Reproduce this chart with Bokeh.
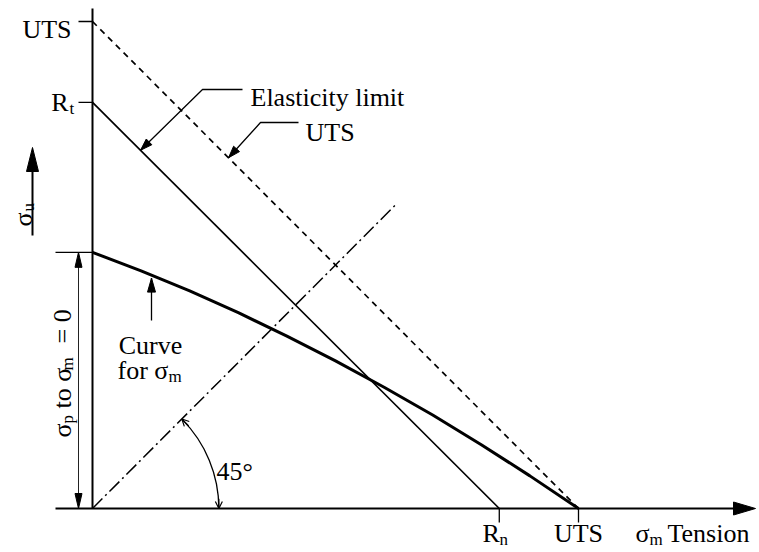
import math
import numpy as np
from bokeh.plotting import figure
from bokeh.models import Range1d, Label, Arrow, OpenHead
from bokeh.embed import file_html
from bokeh.resources import INLINE

# Stresses normalised so that UTS = 1 on both axes
uts = 1.0
r_t = 0.834            # elasticity limit on the sigma_u axis
r_n = 0.837            # elasticity limit on the sigma_m axis
sigma_p = 0.526        # sigma_p for sigma_m = 0
curve_x = [0.0, 0.1, 0.2, 0.3, 0.4, 0.5, 0.6, 0.7, 0.8, 0.9, 1.0]
curve_y = [0.526, 0.488, 0.447, 0.402, 0.354, 0.303, 0.249, 0.192, 0.131, 0.067, 0.0]
diag_len = 0.625       # extent of the 45 degree reference line
angle_deg = 45
arc_r = 0.26

FONT = "'Liberation Serif', serif"
BIG, SMALL = "26px", "17px"
W, H = 759, 552
SX, SY = 486.0, 487.0  # pixels per unit stress
OX, OY = 92, 508       # origin on the canvas


def X(px):
    return (px - OX) / SX


def Y(py):
    return (OY - py) / SY


p = figure(width=W, height=H, x_range=Range1d(X(0), X(W)), y_range=Range1d(Y(H), Y(0)),
           output_backend="svg", toolbar_location=None,
           x_axis_type=None, y_axis_type=None, min_border=0,
           outline_line_color=None, background_fill_color="white")
p.grid.visible = False

heads_x, heads_y = [], []


def head(tip_x, tip_y, from_x, from_y, length=12, width=8):
    """Filled arrow head at (tip_x, tip_y) pointing away from (from_x, from_y)."""
    ux, uy = (tip_x - from_x) * SX, (tip_y - from_y) * SY
    n = math.hypot(ux, uy)
    ux, uy = ux / n, uy / n
    bx, by = -ux * length, -uy * length
    nx, ny = -uy * width / 2, ux * width / 2
    heads_x.append([tip_x, tip_x + (bx + nx) / SX, tip_x + (bx - nx) / SX])
    heads_y.append([tip_y, tip_y + (by + ny) / SY, tip_y + (by - ny) / SY])


# axes
p.line([X(55), X(735)], [0, 0], line_color="black", line_width=2)
head(X(755), 0, 0, 0, length=22, width=13)
p.line([0, 0], [0, Y(8)], line_color="black", line_width=2)

# ticks on the sigma_u axis
p.segment(x0=[X(78), X(78), X(55)], y0=[uts, r_t, sigma_p],
          x1=[0, 0, 0], y1=[uts, r_t, sigma_p], line_color="black", line_width=1.3)
# ticks on the sigma_m axis
p.segment(x0=[r_n, uts], y0=[0, 0], x1=[r_n, uts], y1=[Y(522), Y(522)],
          line_color="black", line_width=1.3)

# UTS line, elasticity limit, curve for sigma_m
p.line([0, uts], [uts, 0], line_color="black", line_width=1.7, line_dash="6 5")
p.line([0, r_n], [r_t, 0], line_color="black", line_width=1.7)
p.line(curve_x, curve_y, line_color="black", line_width=3)

# 45 degree reference line and angle arc
p.line([0, diag_len], [0, diag_len], line_color="black", line_width=1.5,
       line_dash="14 4 2 4")
a = math.radians(angle_deg)
p.arc(x=0, y=0, radius=arc_r, start_angle=0, end_angle=a,
      line_color="black", line_width=1.3)
for ang, sgn in ((a, 1), (0.0, -1)):
    tx, ty = arc_r * math.cos(ang), arc_r * math.sin(ang)
    fx = tx + sgn * 0.02 * math.sin(ang)
    fy = ty - sgn * 0.02 * math.cos(ang)
    p.add_layout(Arrow(x_start=fx, y_start=fy, x_end=tx, y_end=ty, line_width=1.2,
                       end=OpenHead(size=7, line_width=1.2)))

# dimension sigma_p to sigma_m = 0
dim_x = X(78)
p.line([dim_x, dim_x], [0, sigma_p], line_color="#222222", line_width=1)
head(dim_x, sigma_p, dim_x, 0, length=15, width=7)
head(dim_x, 0, dim_x, sigma_p, length=15, width=7)

# sigma_u direction arrow
su_x = X(32)
p.line([su_x, su_x], [Y(235), Y(165)], line_color="black", line_width=2)
head(su_x, Y(147), su_x, Y(235), length=24, width=12)

# leader: elasticity limit
el_tip_x = X(140)
el_tip_y = r_t * (1 - el_tip_x / r_n)
p.line([X(242), X(202), el_tip_x], [Y(89), Y(89), el_tip_y], line_color="black", line_width=1.3)
head(el_tip_x, el_tip_y, X(202), Y(89), length=12, width=8)

# leader: UTS
ut_tip_x = X(228)
ut_tip_y = uts - ut_tip_x
p.line([X(298), X(260), ut_tip_x], [Y(122), Y(122), ut_tip_y], line_color="black", line_width=1.3)
head(ut_tip_x, ut_tip_y, X(260), Y(122), length=12, width=8)

# leader: curve for sigma_m
cv_x = X(151)
cv_tip_y = float(np.interp(cv_x, curve_x, curve_y)) - 3 / SY
p.line([cv_x, cv_x], [Y(320), cv_tip_y], line_color="black", line_width=1.3)
head(cv_x, cv_tip_y, cv_x, Y(320), length=14, width=8)

p.patches(heads_x, heads_y, fill_color="black", line_color="black", line_width=1)


def lab(x, y, text, size=BIG, align="left", angle=0.0):
    p.add_layout(Label(x=x, y=y, text=text, text_font=FONT, text_font_size=size,
                       text_align=align, text_baseline="alphabetic", angle=angle,
                       text_color="black"))


# sigma_u axis labels
lab(X(71), uts - 8 / SY, "UTS", align="right")
lab(X(68), r_t, "R", align="right")
lab(X(69), r_t - 6 / SY, "t", size=SMALL)

# sigma_m axis labels
lab(X(482), Y(533), "R")
lab(X(499), Y(539), "n", size=SMALL)
lab(uts, Y(533), "UTS", align="center")
lab(X(635), Y(533), "σ")
lab(X(649), Y(539), "m", size=SMALL)
lab(X(667), Y(533), "Tension")

# leader texts
lab(X(250), Y(97), "Elasticity limit")
lab(X(305), Y(132), "UTS")
lab(X(150), Y(345), "Curve", align="center")
lab(X(117), Y(370), "for σ")
lab(X(168), Y(376), "m", size=SMALL)
lab(X(216), Y(471), "45°")

# rotated labels, reading upwards
up = math.pi / 2
lab(X(23), Y(226), "σ", angle=up)
lab(X(28), Y(211), "u", size=SMALL, angle=up)
lab(X(62), Y(437), "σ", angle=up)
lab(X(67), Y(423), "p", size=SMALL, angle=up)
lab(X(62), Y(408), "to σ", angle=up)
lab(X(67), Y(370), "m", size=SMALL, angle=up)
lab(X(62), Y(343), "= 0", angle=up)

open("out.html", "w").write(file_html(p, INLINE))
